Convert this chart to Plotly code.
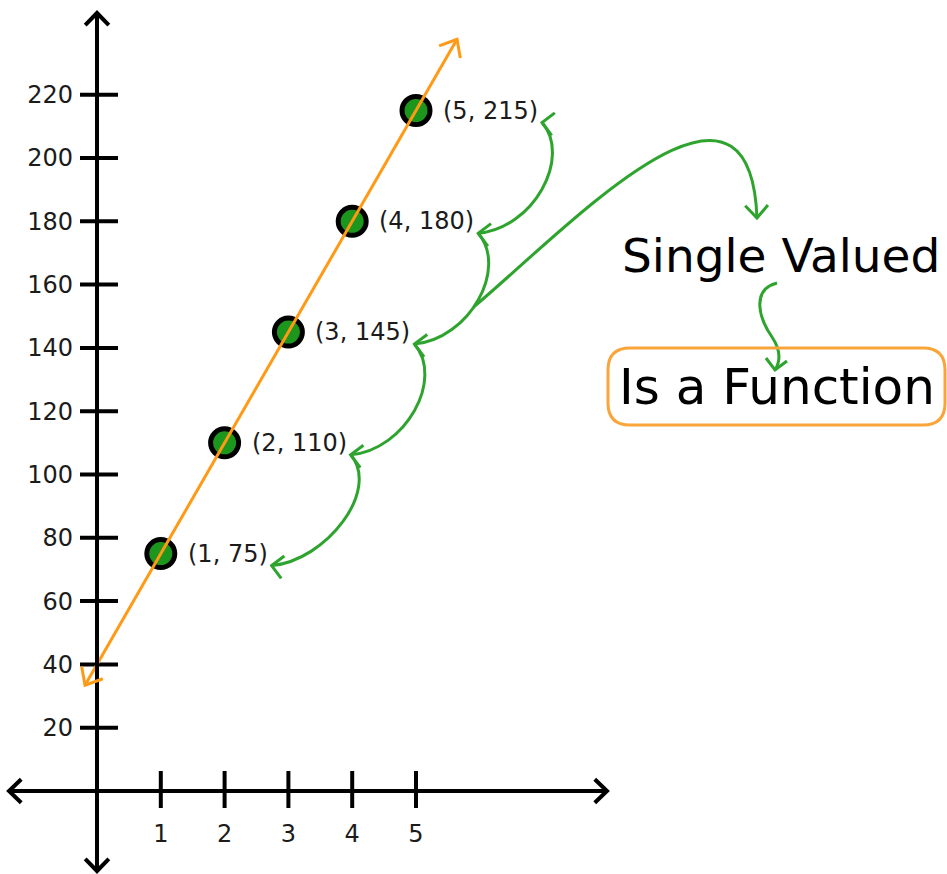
import numpy as np
import plotly.graph_objects as go

# values
x_vals = [1, 2, 3, 4, 5]
y_vals = [75, 110, 145, 180, 215]
point_labels = ["(1, 75)", "(2, 110)", "(3, 145)", "(4, 180)", "(5, 215)"]
x_ticks = [1, 2, 3, 4, 5]
y_ticks = [20, 40, 60, 80, 100, 120, 140, 160, 180, 200, 220]
note_top = "Single Valued"
note_box = "Is a Function"

# drawing scale: pixels per data unit
PX_X = 63.8
PX_Y = 3.165

FONT = "DejaVu Sans"
INK = "#1b1b1b"
GREEN = "#2ea42e"
DOT = "#1c961c"
ORANGE = "#ff9a16"

# rough DejaVu Sans advance widths (em) to find where a label ends
CHAR_W = {"(": 0.39, ")": 0.39, ",": 0.318, " ": 0.318}


def dx(p):
    return p / PX_X


def dy(p):
    return p / PX_Y


def offs(pt, ox, oy):
    # shift a data point by pixels (oy > 0 is up)
    return (pt[0] + dx(ox), pt[1] + dy(oy))


def text_w(s, size):
    return sum(CHAR_W.get(c, 0.636) for c in s) * size


def chevron(tip, ang, arm=17, spread=44):
    a1 = np.radians(ang + 180 - spread)
    a2 = np.radians(ang + 180 + spread)
    p1 = offs(tip, arm * np.cos(a1), arm * np.sin(a1))
    p2 = offs(tip, arm * np.cos(a2), arm * np.sin(a2))
    return f"M {p1[0]},{p1[1]} L {tip[0]},{tip[1]} L {p2[0]},{p2[1]}"


def bez(p0, p1, p2, p3, move=True):
    head = f"M {p0[0]},{p0[1]} " if move else ""
    return head + f"C {p1[0]},{p1[1]} {p2[0]},{p2[1]} {p3[0]},{p3[1]}"


def bez_at(t, p0, p1, p2, p3):
    c = [(1 - t) ** 3, 3 * (1 - t) ** 2 * t, 3 * (1 - t) * t ** 2, t ** 3]
    return (sum(k * p[0] for k, p in zip(c, (p0, p1, p2, p3))),
            sum(k * p[1] for k, p in zip(c, (p0, p1, p2, p3))))


x_range = [dx(-97), dx(850)]
y_range = [dy(-83), dy(791)]

shapes = []


def path(d, color, width):
    shapes.append(dict(type="path", path=d, xref="x", yref="y",
                       line=dict(color=color, width=width)))


# axes with arrows at both ends
ax_x = (dx(-88), dx(510))
ax_y = (dy(-80), dy(778))
shapes.append(dict(type="line", xref="x", yref="y", x0=ax_x[0], x1=ax_x[1], y0=0, y1=0,
                   line=dict(color="black", width=4)))
shapes.append(dict(type="line", xref="x", yref="y", x0=0, x1=0, y0=ax_y[0], y1=ax_y[1],
                   line=dict(color="black", width=4)))
path(chevron((ax_x[0], 0), 180), "black", 4)
path(chevron((ax_x[1], 0), 0), "black", 4)
path(chevron((0, ax_y[0]), 270), "black", 4)
path(chevron((0, ax_y[1]), 90), "black", 4)

fig = go.Figure()

# tick marks crossing the axes
tx, ty = [], []
for v in y_ticks:
    tx += [dx(-17), dx(21), None]
    ty += [v, v, None]
for v in x_ticks:
    tx += [v, v, None]
    ty += [dy(20), dy(-17), None]
fig.add_trace(go.Scatter(x=tx, y=ty, mode="lines", line=dict(color="black", width=4),
                         hoverinfo="skip"))

# points
fig.add_trace(go.Scatter(x=x_vals, y=y_vals, mode="markers",
                         marker=dict(size=28, color=DOT, line=dict(color="black", width=5))))

# orange line through the points
slope, icpt = np.polyfit(x_vals, y_vals, 1)
line_x = [dx(-12), dx(360)]
line_y = [slope * v + icpt for v in line_x]
fig.add_trace(go.Scatter(x=line_x, y=line_y, mode="lines",
                         line=dict(color=ORANGE, width=3), hoverinfo="skip"))
line_ang = np.degrees(np.arctan2(slope * PX_Y, PX_X))
path(chevron((line_x[1], line_y[1]), line_ang, arm=19, spread=40), ORANGE, 3)
path(chevron((line_x[0], line_y[0]), line_ang + 180, arm=19, spread=40), ORANGE, 3)

# point labels and the green arrows joining them
annotations = []
LBL = 24
tips = []
for x, y, s in zip(x_vals, y_vals, point_labels):
    start = x + dx(25)
    annotations.append(dict(x=start, y=y, text=s, showarrow=False, xanchor="left",
                            yanchor="middle", font=dict(family=FONT, size=LBL, color=INK)))
    tip = (start + dx(text_w(s, LBL) + 6), y - dy(12))
    tips.append(tip)
    path(chevron(tip, 172, arm=16, spread=45), GREEN, 3)

arcs = []
for i in range(len(tips) - 1):
    p0, p3 = tips[i], tips[i + 1]
    arc = (p0, offs(p0, 55, 5), offs(p3, 30, -35), p3)
    arcs.append(arc)
    path(bez(*arc), GREEN, 3)

# big arrow to the note
top_c = (dx(781 - 97), dy(791 - 255))
box_c = (dx(777 - 97), dy(791 - 387))
junction = bez_at(0.45, *arcs[2])
sv_tip = offs(top_c, -24, 37)
path(bez(junction, offs(junction, 95, 80), offs(sv_tip, -7, 185), sv_tip), GREEN, 3)
path(chevron(sv_tip, 272, arm=17, spread=42), GREEN, 3)

# squiggle between the two notes
s0 = offs(top_c, -4, -28)
squig = bez(s0, offs(s0, -27, -7), offs(s0, -17, -37), offs(s0, -5, -54))
squig += " " + bez(None, offs(s0, 5, -69), offs(s0, 3, -79), offs(s0, -2, -87), move=False)
path(squig, GREEN, 3)
path(chevron(offs(s0, -2, -87), 262, arm=15, spread=45), GREEN, 3)

annotations.append(dict(x=top_c[0], y=top_c[1], text=note_top, showarrow=False,
                        font=dict(family=FONT, size=47, color="black")))
annotations.append(dict(x=box_c[0], y=box_c[1], text=note_box, showarrow=False,
                        font=dict(family=FONT, size=50, color="black")))

# rounded orange box
x0, x1 = box_c[0] - dx(169), box_c[0] + dx(168)
y0, y1 = box_c[1] - dy(38), box_c[1] + dy(39)
rx, ry = dx(22), dy(22)
path(f"M {x0 + rx},{y1} L {x1 - rx},{y1} Q {x1},{y1} {x1},{y1 - ry} "
     f"L {x1},{y0 + ry} Q {x1},{y0} {x1 - rx},{y0} L {x0 + rx},{y0} "
     f"Q {x0},{y0} {x0},{y0 + ry} L {x0},{y1 - ry} Q {x0},{y1} {x0 + rx},{y1} Z",
     "#f9a53a", 3)

fig.update_layout(
    width=947, height=874,
    margin=dict(l=0, r=0, t=0, b=0),
    plot_bgcolor="white", paper_bgcolor="white",
    showlegend=False,
    shapes=shapes,
    annotations=annotations,
    xaxis=dict(range=x_range, showgrid=False, zeroline=False, showline=False,
               anchor="free", position=83 / 874,
               tickvals=x_ticks, ticks="", ticklabelstandoff=26,
               tickfont=dict(family=FONT, size=24, color=INK)),
    yaxis=dict(range=y_range, showgrid=False, zeroline=False, showline=False,
               anchor="free", position=97 / 947,
               tickvals=y_ticks, ticks="", ticklabelstandoff=24,
               tickfont=dict(family=FONT, size=24, color=INK)),
)

fig.write_html("out.html", config={"displayModeBar": False},
               post_script="document.body.style.margin='0';document.body.style.overflow='hidden';")
